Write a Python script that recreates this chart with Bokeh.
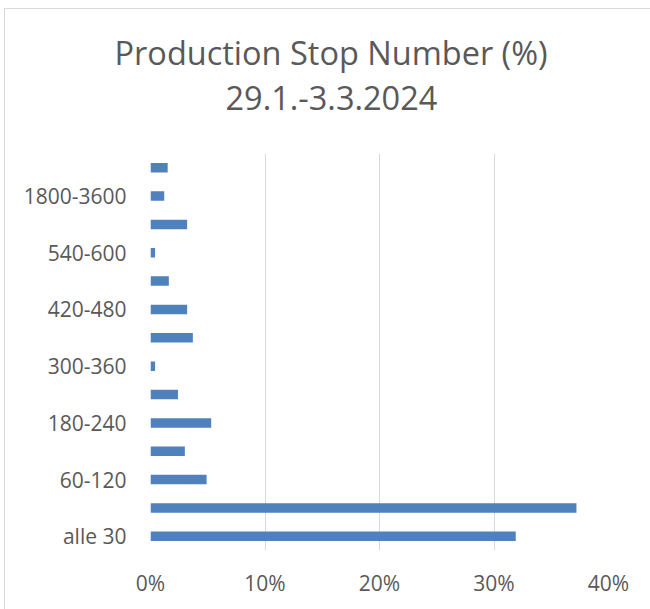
from bokeh.plotting import figure
from bokeh.models import ColumnDataSource, FixedTicker, Range1d, Title
from bokeh.embed import file_html
from bokeh.resources import INLINE

# Stop-duration classes (seconds) and their share of all production stops
categories = ["alle 30", "30-60", "60-120", "120-180", "180-240", "240-300", "300-360",
              "360-420", "420-480", "480-540", "540-600", "600-1800", "1800-3600", "über 3600"]
share_pct = [31.9, 37.2, 4.9, 3.0, 5.3, 2.4, 0.4, 3.7, 3.2, 1.6, 0.4, 3.2, 1.2, 1.5]
x_ticks = [0, 10, 20, 30, 40]
title_lines = ["Production Stop Number (%)", "29.1.-3.3.2024"]

TEXT = "#595959"
GRID = "#d9d9d9"
BAR = "#4f81bd"
FONT = "Open Sans"

source = ColumnDataSource(dict(pos=list(range(len(categories))), share=share_pct,
                               label=categories))

p = figure(width=646, height=601, output_backend="svg", toolbar_location=None,
           x_range=Range1d(0, 40), y_range=Range1d(-0.5, len(categories) - 0.5),
           min_border_left=145, min_border_right=43, min_border_top=144,
           min_border_bottom=60)
p.styles = {"margin-left": "4px", "margin-top": "8px",
            "border-top": f"1px solid {GRID}", "border-left": f"1px solid {GRID}"}

p.hbar(y="pos", left=0, right="share", height=0.335, source=source,
       fill_color=BAR, line_color=None)

# two-line title: the bottom line is added first so it sits nearest the frame;
# the negative standoff pulls the top line down close to it
p.title.visible = False
sub = Title(text=title_lines[1], align="left", offset=75, text_font=FONT,
            text_font_size="32.5px", text_font_style="normal", text_color=TEXT,
            standoff=87)
main = Title(text=title_lines[0], align="left", offset=-36, text_font=FONT,
             text_font_size="32.5px", text_font_style="normal", text_color=TEXT,
             standoff=-69)
p.add_layout(sub, "above")
p.add_layout(main, "above")

xa = p.xaxis[0]
xa.ticker = FixedTicker(ticks=x_ticks)
xa.major_label_overrides = {t: f"{t}%" for t in x_ticks}
xa.axis_line_color = None
xa.major_tick_line_color = None
xa.minor_tick_line_color = None
xa.major_tick_out = 0
xa.major_tick_in = 0
xa.major_label_text_font = FONT
xa.major_label_text_font_size = "21px"
xa.major_label_text_color = TEXT
xa.major_label_standoff = 18

ya = p.yaxis[0]
ya.ticker = FixedTicker(ticks=list(range(0, len(categories), 2)))
ya.major_label_overrides = {i: categories[i] for i in range(0, len(categories), 2)}
ya.axis_line_color = None
ya.major_tick_line_color = None
ya.minor_tick_line_color = None
ya.major_tick_out = 0
ya.major_tick_in = 0
ya.major_label_text_font = FONT
ya.major_label_text_font_size = "21px"
ya.major_label_text_color = TEXT
ya.major_label_standoff = 24

p.xgrid.grid_line_color = GRID
p.ygrid.grid_line_color = None
p.outline_line_color = None

open("out.html", "w").write(file_html(p, INLINE))
